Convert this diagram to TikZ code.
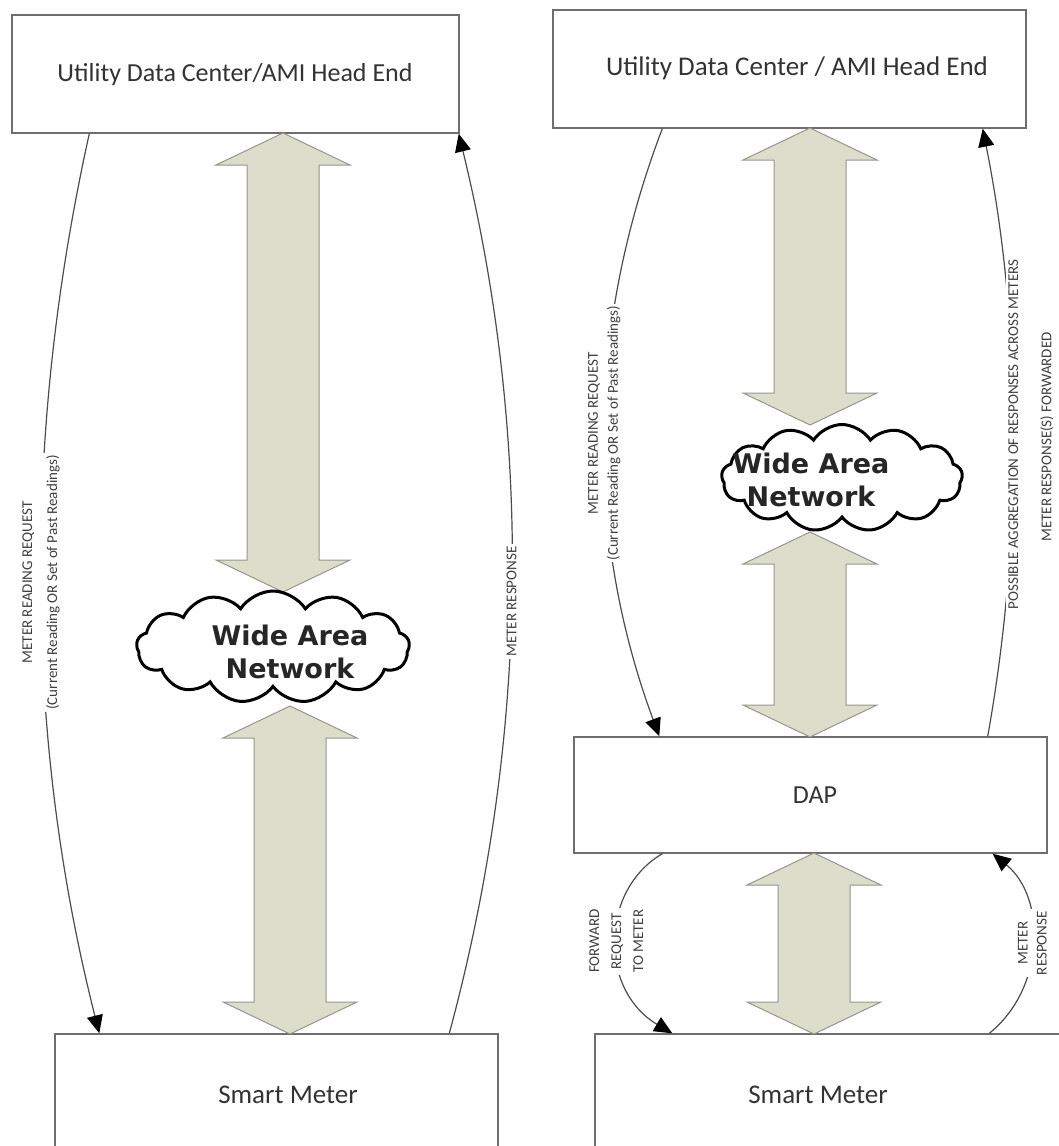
\documentclass[tikz,border=0pt]{standalone}
\usepackage{fontspec}
\setmainfont{Carlito}
\newfontfamily\cloudfont{DejaVu Sans}
\usetikzlibrary{shapes.symbols,arrows.meta}
\definecolor{arrfill}{RGB}{221,221,203}
\definecolor{arrline}{RGB}{150,150,140}
\definecolor{boxline}{RGB}{110,110,110}
\newcommand\dblarrowshape[3]{%
  \filldraw[bigarr] (#1,#2) -- (#1+67,#2+32) -- (#1+36,#2+32) -- (#1+36,#3-32) -- (#1+67,#3-32) -- (#1,#3) -- (#1-67,#3-32) -- (#1-36,#3-32) -- (#1-36,#2+32) -- (#1-67,#2+32) -- cycle;}
\begin{document}
\begin{tikzpicture}[x=1pt,y=-1pt,
  box/.style={draw=boxline,line width=1.4pt,fill=white,inner sep=0pt},
  boxtext/.style={text=black!80,inner sep=0pt},
  bigarr/.style={fill=arrfill,draw=arrline,line width=1pt},
  conn/.style={draw=black!70,line width=1.2pt},
  tip/.style={-{Triangle[length=18pt,width=16pt,color=black]}},
  lbl/.style={fill=white,rotate=90,align=center,inner sep=2pt,text=black!75,font=\fontsize{15}{19}\selectfont},
  wan/.style={cloud,cloud puffs=13,cloud puff arc=115,draw=black,line width=3pt,fill=white,inner sep=0pt},
  wantext/.style={align=center,font=\cloudfont\bfseries\fontsize{27}{33}\selectfont,text=black!85}]
\useasboundingbox (0,0) rectangle (1059,1146);
\clip (0,0) rectangle (1059,1146);
% ---------- left panel ----------
\node[box,minimum width=447pt,minimum height=118pt] (top1) at (235.5,74) {};
\node[boxtext,font=\fontsize{26}{30}\selectfont] (t1) at (235,75) {Utility Data Center/AMI Head End};
\node[box,minimum width=443pt,minimum height=130pt] (sm1) at (276.5,1099) {};
\node[boxtext,font=\fontsize{27}{30}\selectfont] (smt1) at (288,1095) {Smart Meter};
\dblarrowshape{283}{133}{592}
\dblarrowshape{290}{706}{1034}
\node[wan,minimum width=273pt,minimum height=112pt] (wan1) at (273,647) {};
\node[wantext] (want1) at (290,652) {Wide Area\\Network};
\draw[conn,tip] ([xshift=78pt]top1.south west) .. controls +(-66,297) and +(-76,-300) .. ([xshift=45pt]sm1.north west)
  node[lbl,pos=0.5,font=\fontsize{15}{25}\selectfont] (l1) {METER READING REQUEST\\(Current Reading OR Set of Past Readings)};
\draw[conn,tip] ([xshift=395pt]sm1.north west) .. controls +(81,-300) and +(73,300) .. ([xshift=-1pt]top1.south east)
  node[lbl,pos=0.48] (l2) {METER RESPONSE};
% ---------- right panel ----------
\node[box,minimum width=473pt,minimum height=118pt] (top2) at (789.5,69) {};
\node[boxtext,font=\fontsize{27}{30}\selectfont] (t2) at (797,68) {Utility Data Center / AMI Head End};
\node[box,minimum width=473pt,minimum height=116pt] (dap) at (810.5,795) {};
\node[boxtext,font=\fontsize{26}{30}\selectfont] (dapt) at (815,795) {DAP};
\node[box,minimum width=475pt,minimum height=130pt] (sm2) at (832.5,1099) {};
\node[boxtext,font=\fontsize{27}{30}\selectfont] (smt2) at (818,1095) {Smart Meter};
\dblarrowshape{810}{128}{425}
\dblarrowshape{810}{532}{737}
\dblarrowshape{814}{853}{1034}
\node[wan,minimum width=241pt,minimum height=107pt] (wan2) at (842,478) {};
\node[wantext] (want2) at (811,480) {Wide Area\\Network};
\draw[conn,tip] ([xshift=110pt]top2.south west) .. controls +(-77,202) and +(-74,-200) .. ([xshift=86pt]dap.north west)
  node[lbl,pos=0.5,font=\fontsize{15}{20}\selectfont] (l3) {METER READING REQUEST\\(Current Reading OR Set of Past Readings)};
\draw[conn,tip] ([xshift=-60pt]dap.north east) .. controls +(35,-195) and +(40,200) .. ([xshift=-44pt]top2.south east)
  node[lbl,pos=0.5] (l4) {POSSIBLE AGGREGATION OF RESPONSES ACROSS METERS};
\node[lbl] (l5) at (1047,437) {METER RESPONSE(S) FORWARDED};
\draw[conn,tip] ([xshift=89pt]dap.south west) .. controls +(-63,37) and +(-73,-43) .. ([xshift=78pt]sm2.north west)
  node[lbl,pos=0.5,font=\fontsize{15}{22}\selectfont] (l6) {FORWARD\\REQUEST\\TO METER};
\draw[conn,tip] ([xshift=395pt]sm2.north west) .. controls +(56,-45) and +(54,44) .. ([xshift=-55pt]dap.south east)
  node[lbl,pos=0.5,font=\fontsize{15}{19}\selectfont] (l7) {METER\\RESPONSE};
\end{tikzpicture}
\end{document}
